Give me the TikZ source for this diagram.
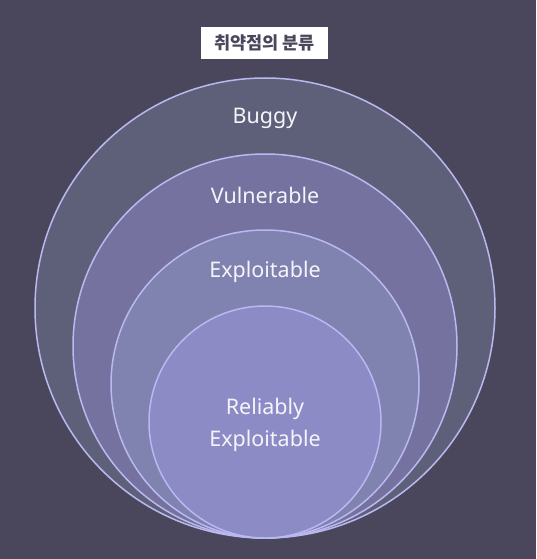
\documentclass[tikz,border=0pt]{standalone}
\usepackage{fontspec}
\setmainfont{Noto Sans}
\newfontfamily\kr{Noto Sans CJK KR}
\definecolor{bg}{HTML}{4A475C}
\definecolor{cA}{HTML}{5E6079}
\definecolor{cB}{HTML}{7572A0}
\definecolor{cC}{HTML}{8083B0}
\definecolor{cD}{HTML}{8D8BC5}
\definecolor{edge}{HTML}{BAB8F0}
\definecolor{lbl}{HTML}{F4F4FA}
\tikzset{ring/.style={circle,draw=edge,line width=1.5pt,inner sep=0pt},
lab/.style={text=lbl,font=\fontsize{21.5}{32}\selectfont,align=center}}
\begin{document}
\begin{tikzpicture}[x=1pt,y=-1pt]
\fill[bg] (0,0) rectangle (536,559);
\useasboundingbox (0,0) rectangle (536,559);
\node[ring,fill=cA,minimum size=460pt] (buggy) at (265,308) {};
\node[ring,fill=cB,minimum size=384pt] (vuln) at (265,346) {};
\node[ring,fill=cC,minimum size=308pt] (expl) at (265,384) {};
\node[ring,fill=cD,minimum size=232pt] (rel) at (265,422) {};
\node[lab] (tb) at (265,118) {Buggy};
\node[lab] (tv) at (265,195) {Vulnerable};
\node[lab] (te) at (265,272) {Exploitable};
\node[lab] (tr) at (265,425) {Reliably\\Exploitable};
\node[fill=white,minimum width=127pt,minimum height=32pt,inner sep=0pt,text=bg,font=\kr\bfseries\fontsize{17.5}{20}\selectfont] (title) at (264.5,43) {취약점의 분류};
\end{tikzpicture}
\end{document}
